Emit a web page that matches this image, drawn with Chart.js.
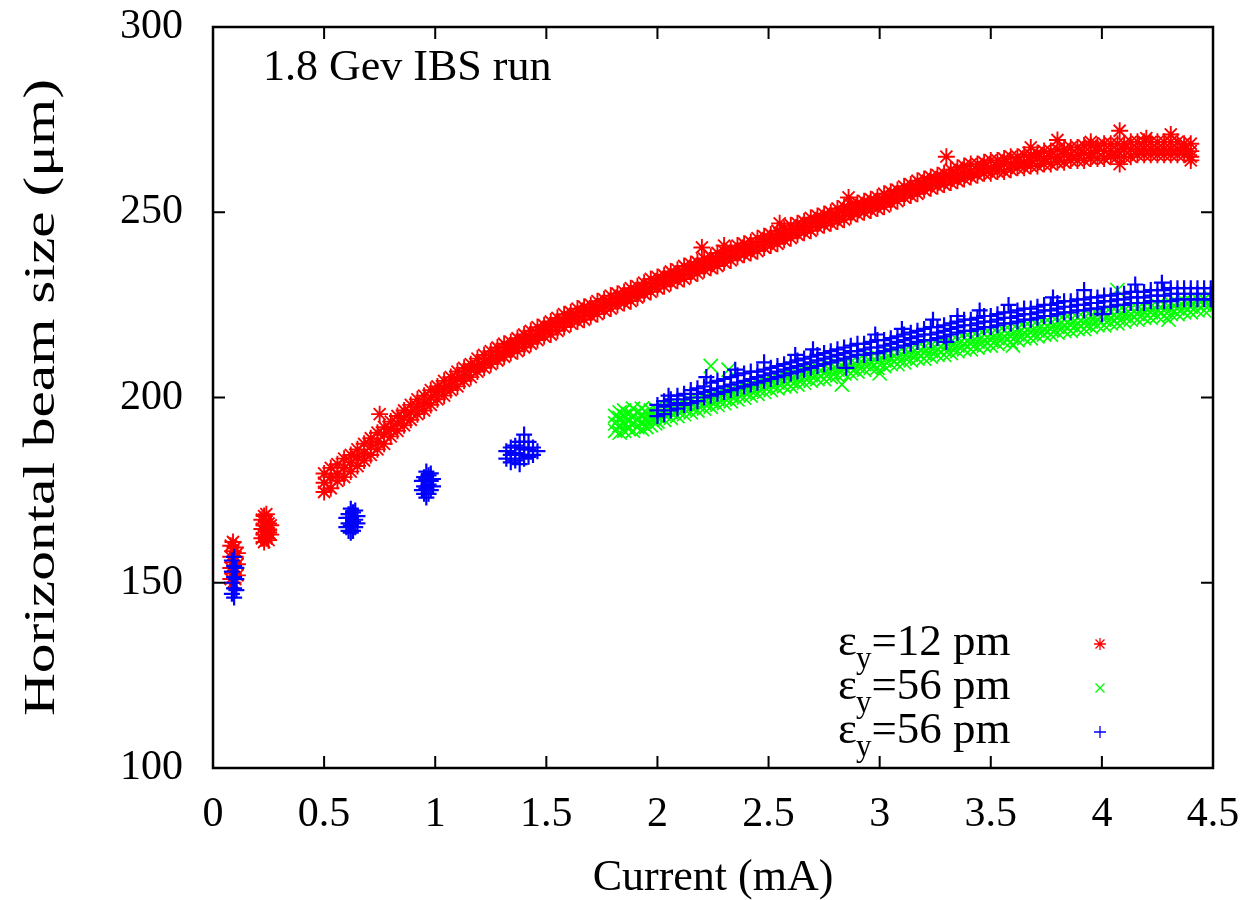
<!DOCTYPE html>
<html>
<head>
<meta charset="utf-8">
<script src="https://cdn.jsdelivr.net/npm/chart.js"></script>
<style>
  body { margin: 0; background: #fff; }
  canvas { display: block; }
</style>
</head>
<body>
<canvas id="chart" width="1247" height="900"></canvas>
<script>
// --- axis ticks ---
const xTickValues = [0, 0.5, 1, 1.5, 2, 2.5, 3, 3.5, 4, 4.5];
const yTickValues = [100, 150, 200, 250, 300];

const plotLabel = "1.8 Gev IBS run";
const xTitle = "Current (mA)";
const yTitle = "Horizontal beam size (\u03bcm)";
const seriesNames = ["=12 pm", "=56 pm", "=56 pm"];

// rows are [current, beam size, beam size, ...]

// --- eps_y = 12 pm (red stars) ---
const redClusters = [
  [0.08, 151, 154, 157, 160], [0.09, 150, 152.5, 155.5, 158.5, 161],
  [0.10, 151, 154, 157, 159.5], [0.11, 152, 155, 158],
  [0.22, 162, 164.5, 167], [0.23, 161, 163, 165.5, 168], [0.24, 162, 164, 166.5, 168.5],
  [0.25, 161.5, 163.5, 166], [0.26, 163, 165.5]
];
const redBand = [
  [0.50, 174.5, 177, 179.5], [0.53, 175.5, 178.5, 181], [0.56, 177.5, 179.5, 182],
  [0.59, 178.5, 181, 183.5], [0.62, 180, 182.5, 184.5], [0.65, 181.5, 184, 186],
  [0.68, 183, 185, 187.5], [0.71, 184.5, 187, 189], [0.74, 186, 188, 190.5],
  [0.77, 187.5, 190, 192], [0.80, 189.5, 191.5, 193.5], [0.83, 191, 193, 195],
  [0.86, 192.5, 194.5, 196.5], [0.89, 194, 196, 198], [0.92, 195.5, 197.5, 199.5],
  [0.95, 196.5, 198.5, 200.5], [0.98, 198, 200, 202], [1.01, 199.5, 201.5, 203],
  [1.04, 200.5, 202.5, 204.5], [1.07, 202, 203.5, 205.5], [1.10, 203, 205, 207],
  [1.13, 204.5, 206, 208], [1.16, 205.5, 207.5, 209], [1.19, 207, 208.5, 210.5],
  [1.22, 208, 209.5, 211.5], [1.25, 209, 210.5, 212.5], [1.28, 210, 211.5, 213.5],
  [1.31, 211, 212.5, 214.5], [1.34, 212, 213.5, 215], [1.37, 212.5, 214.5, 216],
  [1.40, 213.5, 215.5, 217], [1.43, 214.5, 216, 218], [1.46, 215.5, 217, 219],
  [1.49, 216.5, 218, 219.5], [1.52, 217, 219, 220.5], [1.55, 218, 220, 221.5],
  [1.58, 219, 220.5, 222.5], [1.61, 220, 221.5, 223], [1.64, 220.5, 222, 224],
  [1.67, 221, 223, 224.5], [1.70, 222, 223.5, 225], [1.73, 222.5, 224.5, 226],
  [1.76, 223.5, 225, 226.5], [1.79, 224, 225.5, 227.5], [1.82, 225, 226.5, 228],
  [1.85, 225.5, 227, 228.5], [1.88, 226, 228, 229.5], [1.91, 227, 228.5, 230],
  [1.94, 228, 229.5, 231], [1.97, 228.5, 230, 232], [2.00, 229.5, 231, 232.5],
  [2.03, 230, 231.5, 233], [2.06, 231, 232.5, 234], [2.09, 231.5, 233, 234.5],
  [2.12, 232, 233.5, 235.5], [2.15, 233, 234.5, 236], [2.18, 233.5, 235, 236.5],
  [2.21, 234.5, 236, 237.5], [2.24, 235, 236.5, 238], [2.27, 235.5, 237, 239],
  [2.30, 236.5, 238, 239.5], [2.33, 237, 238.5, 240], [2.36, 238, 239.5, 241],
  [2.39, 238.5, 240, 241.5], [2.42, 239, 240.5, 242], [2.45, 239.5, 241, 243],
  [2.48, 240.5, 242, 243.5], [2.51, 241, 242.5, 244], [2.54, 241.5, 243, 245],
  [2.57, 242.5, 244, 245.5], [2.60, 243, 244.5, 246.5], [2.63, 244, 245.5, 247],
  [2.66, 244.5, 246, 247.5], [2.69, 245, 247, 248.5], [2.72, 246, 247.5, 249],
  [2.75, 246.5, 248, 249.5], [2.78, 247, 248.5, 250], [2.81, 247.5, 249, 251],
  [2.84, 248, 250, 251.5], [2.87, 249, 250.5, 252], [2.90, 249.5, 251, 252.5],
  [2.93, 250, 251.5, 253], [2.96, 250.5, 252, 253.5], [2.99, 251, 252.5, 254],
  [3.02, 251.5, 253, 255], [3.05, 252.5, 254, 255.5], [3.08, 253, 254.5, 256],
  [3.11, 254, 255.5, 257], [3.14, 254.5, 256, 257.5], [3.17, 255, 256.5, 258.5],
  [3.20, 256, 257.5, 259], [3.23, 256.5, 258, 259.5], [3.26, 257, 258.5, 260],
  [3.29, 257.5, 259, 260.5], [3.32, 258, 259.5, 261.5], [3.35, 258.5, 260, 262],
  [3.38, 259, 260.5, 262.5], [3.41, 259.5, 261, 263], [3.44, 260, 261.5, 263],
  [3.47, 260.5, 262, 263.5], [3.50, 260.5, 262, 264], [3.53, 261, 262.5, 264],
  [3.56, 261, 263, 264.5], [3.59, 261.5, 263, 265], [3.62, 262, 263.5, 265],
  [3.65, 262, 263.5, 265.5], [3.68, 262.5, 264, 265.5], [3.71, 262.5, 264.5, 266],
  [3.74, 263, 264.5, 266.5], [3.77, 263, 265, 266.5], [3.80, 263.5, 265, 267],
  [3.83, 263.5, 265.5, 267], [3.86, 264, 265.5, 267.5], [3.89, 264, 265.5, 267.5],
  [3.92, 264, 266, 268], [3.95, 264.5, 266, 268], [3.98, 264.5, 266.5, 268],
  [4.01, 264.5, 266.5, 268.5], [4.04, 265, 266.5, 268.5], [4.07, 265, 266.5, 268.5],
  [4.10, 265, 267, 268.5], [4.13, 265, 267, 269], [4.16, 265.5, 267, 269],
  [4.19, 265.5, 267, 269], [4.22, 265.5, 267, 269], [4.25, 265.5, 267, 269],
  [4.28, 265.5, 267, 269], [4.31, 265.5, 267, 269], [4.34, 265.5, 267, 269],
  [4.37, 265.5, 267, 268.5], [4.40, 265, 266.5, 268.5]
];
const redOutliers = [
  [0.75, 195.5], [2.20, 240.5], [2.30, 241], [2.55, 247], [2.86, 254], [3.30, 265],
  [3.68, 267.5], [3.80, 269.5], [3.95, 269], [4.08, 272], [4.08, 263], [4.20, 270],
  [4.31, 271], [4.40, 264]
];

// --- eps_y = 56 pm (green crosses) ---
const greenCluster = [
  [1.81, 191, 193, 195], [1.83, 190.5, 192.5, 194.5, 196], [1.85, 191, 193, 195, 196.5],
  [1.87, 191.5, 193.5, 195.5], [1.89, 191, 193, 195, 197], [1.91, 192, 194, 196],
  [1.93, 191.5, 193.5, 195.5, 197], [1.95, 192, 194, 196], [1.97, 192.5, 194.5, 196.5],
  [1.99, 193, 195, 197]
];
const greenBand = [
  [2.00, 193.5, 195, 196.5], [2.03, 194, 195.5, 197], [2.06, 194.5, 196, 197.5],
  [2.09, 195, 196.5, 198], [2.12, 195.5, 197, 198.5], [2.15, 196, 197.5, 199],
  [2.18, 196.5, 198, 199.5], [2.21, 197, 198.5, 200], [2.24, 197.5, 199, 200.5],
  [2.27, 198, 199.5, 201], [2.30, 198.5, 200, 201.5], [2.33, 199, 200.5, 202],
  [2.36, 199.5, 201, 202.5], [2.39, 200, 201.5, 203], [2.42, 200.5, 202, 203.5],
  [2.45, 201, 202.5, 204], [2.48, 201.5, 203, 204.5], [2.51, 202, 203.5, 205],
  [2.54, 202.5, 204, 205.5], [2.57, 203, 204.5, 206], [2.60, 203, 204.5, 206],
  [2.63, 203.5, 205, 206.5], [2.66, 204, 205.5, 207], [2.69, 204.5, 206, 207.5],
  [2.72, 205, 206.5, 208], [2.75, 205, 206.5, 208], [2.78, 205.5, 207, 208.5],
  [2.81, 206, 207.5, 209], [2.84, 206.5, 208, 209.5], [2.87, 206.5, 208, 209.5],
  [2.90, 207, 208.5, 210], [2.93, 207.5, 209, 210.5], [2.96, 208, 209.5, 211],
  [2.99, 208, 209.5, 211], [3.02, 208.5, 210, 211.5], [3.05, 209, 210.5, 212],
  [3.08, 209, 210.5, 212], [3.11, 209.5, 211, 212.5], [3.14, 210, 211.5, 213],
  [3.17, 210.5, 212, 213.5], [3.20, 210.5, 212, 213.5], [3.23, 211, 212.5, 214],
  [3.26, 211.5, 213, 214.5], [3.29, 211.5, 213, 214.5], [3.32, 212, 213.5, 215],
  [3.35, 212.5, 214, 215.5], [3.38, 213, 214.5, 216], [3.41, 213, 214.5, 216],
  [3.44, 213.5, 215, 216.5], [3.47, 214, 215.5, 217], [3.50, 214, 215.5, 217],
  [3.53, 214.5, 216, 217.5], [3.56, 215, 216.5, 218], [3.59, 215, 216.5, 218],
  [3.62, 215.5, 217, 218.5], [3.65, 216, 217.5, 219], [3.68, 216, 217.5, 219],
  [3.71, 216.5, 218, 219.5], [3.74, 217, 218.5, 220], [3.77, 217, 218.5, 220],
  [3.80, 217.5, 219, 220.5], [3.83, 218, 219.5, 221], [3.86, 218, 219.5, 221],
  [3.89, 218.5, 220, 221.5], [3.92, 218.5, 220, 221.5], [3.95, 219, 220.5, 222],
  [3.98, 219.5, 221, 222.5], [4.01, 219.5, 221, 222.5], [4.04, 220, 221.5, 223],
  [4.07, 220, 221.5, 223], [4.10, 220.5, 222, 223.5], [4.13, 221, 222.5, 224],
  [4.16, 221, 222.5, 224], [4.19, 221.5, 223, 224.5], [4.22, 221.5, 223, 224.5],
  [4.25, 222, 223.5, 225], [4.28, 222, 223.5, 225], [4.31, 222.5, 224, 225.5],
  [4.34, 222.5, 224, 225.5], [4.37, 223, 224.5, 226], [4.40, 223, 224.5, 226],
  [4.43, 223.5, 225, 226.5], [4.46, 223.5, 225, 226.5], [4.49, 224, 225.5, 227]
];
const greenOutliers = [
  [2.24, 208.5], [2.32, 207.5], [2.83, 203.5], [3.00, 206.5], [3.60, 214],
  [4.07, 229], [4.30, 221]
];

// --- eps_y = 56 pm (blue plus) ---
const blueClusters = [
  [0.085, 147, 150, 153, 156], [0.095, 146, 148.5, 151.5, 154.5, 157], [0.105, 148, 151, 154],
  [0.60, 165, 167.5], [0.61, 164, 166, 168.5], [0.62, 163.5, 165.5, 167.5, 170],
  [0.63, 164, 166.5, 169], [0.64, 165, 167, 169.5], [0.65, 166, 168],
  [0.94, 175, 177.5], [0.95, 174, 176, 178.5], [0.96, 173, 175.5, 178, 180],
  [0.97, 174, 176.5, 179], [0.98, 175, 177.5, 179.5], [0.99, 176, 178],
  [1.32, 183.5, 185.5], [1.34, 182.5, 184.5, 186.5], [1.36, 183, 185, 187],
  [1.38, 182, 184.5, 186.5, 188], [1.40, 183.5, 186, 188, 190], [1.42, 184, 186, 188],
  [1.44, 184.5, 186.5], [1.46, 185.5]
];
const blueBand = [
  [2.00, 195, 196.5, 198], [2.03, 195.5, 197.5, 199], [2.06, 196.5, 198, 199.5],
  [2.09, 197, 198.5, 200.5], [2.12, 198, 199.5, 201], [2.15, 198.5, 200, 202],
  [2.18, 199, 201, 202.5], [2.21, 200, 201.5, 203], [2.24, 200.5, 202, 204],
  [2.27, 201, 202.5, 204.5], [2.30, 201.5, 203, 205], [2.33, 202, 203.5, 205.5],
  [2.36, 202.5, 204, 206], [2.39, 203, 204.5, 206.5], [2.42, 203.5, 205, 207],
  [2.45, 204, 205.5, 207], [2.48, 204.5, 206, 207.5], [2.51, 205, 206.5, 208],
  [2.54, 205.5, 207, 208.5], [2.57, 206, 207.5, 209], [2.60, 206.5, 208, 209.5],
  [2.63, 207, 208.5, 210], [2.66, 207.5, 209, 210.5], [2.69, 208, 209.5, 211],
  [2.72, 208.5, 210, 211.5], [2.75, 209, 210.5, 212], [2.78, 209.5, 211, 212.5],
  [2.81, 210, 211.5, 213], [2.84, 210.5, 212, 213.5], [2.87, 211, 212.5, 214],
  [2.90, 211.5, 212.5, 214.5], [2.93, 211.5, 213, 214.5], [2.96, 212, 213.5, 215],
  [2.99, 212, 213.5, 215.5], [3.02, 212.5, 214, 215.5], [3.05, 213, 214.5, 216],
  [3.08, 213.5, 215, 216.5], [3.11, 214, 215.5, 217], [3.14, 214.5, 216, 217.5],
  [3.17, 215, 216.5, 218], [3.20, 215.5, 217, 218.5], [3.23, 215.5, 217, 219],
  [3.26, 216, 217.5, 219], [3.29, 216.5, 218, 219.5], [3.32, 217, 218.5, 220],
  [3.35, 217.5, 219, 220.5], [3.38, 218, 219.5, 221], [3.41, 218, 219.5, 221],
  [3.44, 218.5, 220, 221.5], [3.47, 219, 220.5, 222], [3.50, 219, 220.5, 222],
  [3.53, 219.5, 221, 222.5], [3.56, 220, 221.5, 223], [3.59, 220, 221.5, 223],
  [3.62, 220.5, 222, 223.5], [3.65, 221, 222.5, 224], [3.68, 221, 222.5, 224],
  [3.71, 221.5, 223, 224.5], [3.74, 222, 223.5, 225], [3.77, 222, 223.5, 225],
  [3.80, 222.5, 224, 225.5], [3.83, 223, 224.5, 226], [3.86, 223, 224.5, 226],
  [3.89, 223.5, 225, 226.5], [3.92, 223.5, 225, 226.5], [3.95, 224, 225.5, 227],
  [3.98, 224, 225.5, 227], [4.01, 224.5, 226, 227.5], [4.04, 224.5, 226, 227.5],
  [4.07, 225, 226.5, 228], [4.10, 225, 226.5, 228], [4.13, 225.5, 227, 228.5],
  [4.16, 225.5, 227, 228.5], [4.19, 225.5, 227, 228.5], [4.22, 226, 227.5, 229],
  [4.25, 226, 227.5, 229], [4.28, 226, 227.5, 229], [4.31, 226, 228, 229.5],
  [4.34, 226.5, 228, 229.5], [4.37, 226.5, 228, 229.5], [4.40, 226.5, 228, 229.5],
  [4.43, 226.5, 228, 229.5], [4.46, 226.5, 228, 229.5], [4.49, 226.5, 228, 229.5]
];
const blueOutliers = [
  [2.05, 200.5], [2.22, 205.5], [2.35, 207.5], [2.48, 209.5], [2.62, 211.5], [2.70, 213],
  [2.85, 208], [2.98, 217], [3.10, 218.5], [3.24, 221], [3.30, 215], [3.35, 222],
  [3.45, 223.5], [3.58, 225], [3.78, 227], [3.92, 229], [4.00, 222.5], [4.15, 230.5],
  [4.27, 231]
];

// every y in a row becomes one point at that row's x
const rowsToXY = rows => rows.flatMap(r => r.slice(1).map(v => ({ x: r[0], y: v })));

const FONT = '"Liberation Serif", "Times New Roman", serif';
const RED = "#ff0000", GREEN = "#00ff00", BLUE = "#0000ff";

// gnuplot-like key symbols
const drawMark = (ctx, style, cx, cy, r) => {
  ctx.beginPath();
  if (style === "star" || style === "cross") {
    ctx.moveTo(cx - r, cy); ctx.lineTo(cx + r, cy);
    ctx.moveTo(cx, cy - r); ctx.lineTo(cx, cy + r);
  }
  if (style === "star" || style === "crossRot") {
    const d = r * 0.75;
    ctx.moveTo(cx - d, cy - d); ctx.lineTo(cx + d, cy + d);
    ctx.moveTo(cx - d, cy + d); ctx.lineTo(cx + d, cy - d);
  }
  ctx.stroke();
};

// --- frame, inward ticks, y title, label and key ---
const framePlugin = {
  id: "frame",
  afterDatasetsDraw(chart) {
    const { ctx, chartArea: a, scales } = chart;
    const x = scales.x, y = scales.y;
    ctx.save();
    ctx.strokeStyle = "#000";
    ctx.lineWidth = 2;
    ctx.beginPath();
    xTickValues.forEach(v => {
      const px = x.getPixelForValue(v);
      ctx.moveTo(px, a.bottom); ctx.lineTo(px, a.bottom - 12);
      ctx.moveTo(px, a.top); ctx.lineTo(px, a.top + 12);
    });
    yTickValues.forEach(v => {
      const py = y.getPixelForValue(v);
      ctx.moveTo(a.left, py); ctx.lineTo(a.left + 12, py);
      ctx.moveTo(a.right, py); ctx.lineTo(a.right - 12, py);
    });
    ctx.stroke();
    ctx.lineWidth = 2.5;
    ctx.strokeRect(a.left, a.top, a.right - a.left, a.bottom - a.top);

    ctx.fillStyle = "#000";

    // y title, drawn a bit stretched like the original
    ctx.save();
    ctx.translate(42, (a.top + a.bottom) / 2);
    ctx.rotate(-Math.PI / 2);
    ctx.scale(1.35, 1);
    ctx.textAlign = "center";
    ctx.textBaseline = "middle";
    ctx.font = "44px " + FONT;
    ctx.fillText(yTitle, 0, 0);
    ctx.restore();

    ctx.textBaseline = "alphabetic";
    ctx.textAlign = "left";
    ctx.font = "44px " + FONT;
    ctx.fillText(plotLabel, a.left + 50, a.top + 53);

    // key
    const styles = ["star", "crossRot", "cross"];
    const colors = [RED, GREEN, BLUE];
    seriesNames.forEach((name, i) => {
      const base = a.bottom - 113 + i * 44;
      let tx = a.left + 625;
      ctx.fillStyle = "#000";
      ctx.font = "45px " + FONT;
      ctx.fillText("\u03b5", tx, base);
      tx += ctx.measureText("\u03b5").width;
      ctx.font = "31px " + FONT;
      ctx.fillText("y", tx - 1, base + 13);
      tx += ctx.measureText("y").width - 1;
      ctx.font = "45px " + FONT;
      ctx.fillText(name, tx, base);
      ctx.strokeStyle = colors[i];
      ctx.lineWidth = 1.3;
      drawMark(ctx, styles[i], a.left + 887, base - 11, 6);
    });
    ctx.restore();
  }
};

new Chart(document.getElementById("chart"), {
  type: "scatter",
  data: {
    datasets: [
      {
        label: "eps12",
        data: rowsToXY(redClusters.concat(redBand, redOutliers)),
        pointStyle: "star",
        pointRadius: 8.5,
        borderColor: RED,
        backgroundColor: RED,
        pointBorderWidth: 1.9,
        order: 3
      },
      {
        label: "eps56a",
        data: rowsToXY(greenCluster.concat(greenBand, greenOutliers)),
        pointStyle: "crossRot",
        pointRadius: 10,
        borderColor: GREEN,
        backgroundColor: GREEN,
        pointBorderWidth: 1.7,
        order: 2
      },
      {
        label: "eps56b",
        data: rowsToXY(blueClusters.concat(blueBand, blueOutliers)),
        pointStyle: "cross",
        pointRadius: 8,
        borderColor: BLUE,
        backgroundColor: BLUE,
        pointBorderWidth: 2.2,
        order: 1
      }
    ]
  },
  options: {
    responsive: false,
    animation: false,
    layout: { padding: { top: 27, right: 34, left: 0, bottom: 0 } },
    plugins: { legend: { display: false }, tooltip: { enabled: false } },
    scales: {
      x: {
        type: "linear",
        min: 0,
        max: 4.5,
        afterBuildTicks: s => { s.ticks = xTickValues.map(v => ({ value: v })); },
        afterFit: s => { s.height = 132; s.paddingLeft = 0; s.paddingRight = 0; },
        grid: { display: false, drawTicks: false },
        border: { display: false },
        ticks: {
          color: "#000", padding: 22, maxRotation: 0,
          callback: v => String(v),
          font: { family: FONT, size: 42 }
        },
        title: {
          display: true,
          text: xTitle,
          color: "#000",
          padding: { top: 0, bottom: 0 },
          font: { family: FONT, size: 44, lineHeight: 1 }
        }
      },
      y: {
        type: "linear",
        min: 100,
        max: 300,
        afterBuildTicks: s => { s.ticks = yTickValues.map(v => ({ value: v })); },
        afterFit: s => { s.width = 213; s.paddingTop = 0; s.paddingBottom = 0; },
        grid: { display: false, drawTicks: false },
        border: { display: false },
        ticks: {
          color: "#000", padding: 30,
          callback: v => String(v),
          font: { family: FONT, size: 42 }
        }
      }
    }
  },
  plugins: [framePlugin]
});
</script>
</body>
</html>
